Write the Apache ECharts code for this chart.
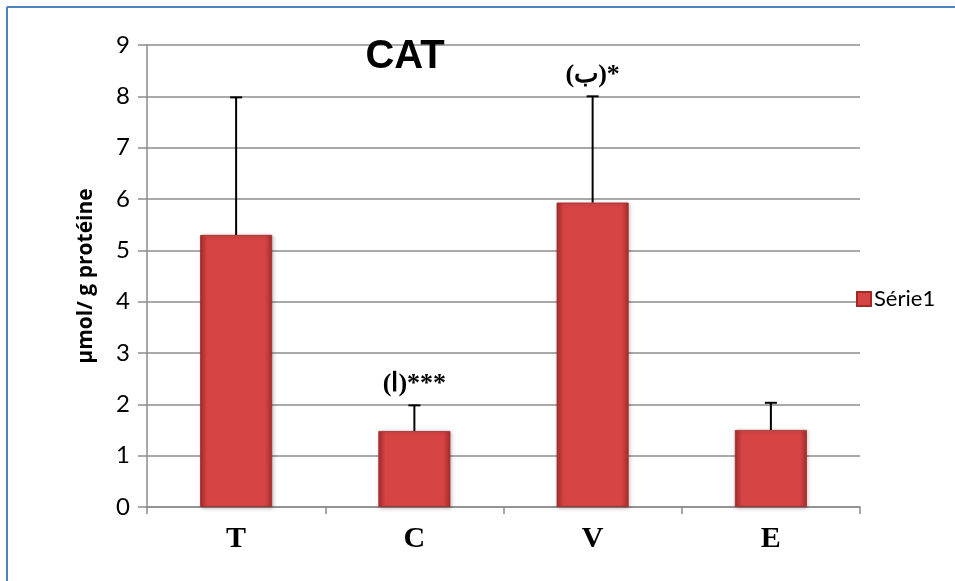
<!DOCTYPE html>
<html>
<head>
<meta charset="utf-8">
<script src="https://cdn.jsdelivr.net/npm/echarts@6/dist/echarts.min.js"></script>
<style>html,body{margin:0;padding:0;background:#fff;}#c{width:955px;height:581px;}</style>
</head>
<body>
<div id="c"></div>
<script>
const categories = ['T', 'C', 'V', 'E'];
const means = [5.3, 1.48, 5.93, 1.5];
const errorTops = [7.98, 1.98, 8.0, 2.03];
const annotations = ['', '(ا)***', '(ب)*', ''];
const yTicks = [0, 1, 2, 3, 4, 5, 6, 7, 8, 9];
const seriesName = 'Série1';
const titleText = 'CAT';
const yAxisName = 'µmol/ g protéine';

const chart = echarts.init(document.getElementById('c'), null, {renderer: 'canvas'});
const barGrad = new echarts.graphic.LinearGradient(0, 0, 1, 0, [
  {offset: 0, color: '#a82c2c'},
  {offset: 0.1, color: '#d64444'},
  {offset: 0.9, color: '#d64444'},
  {offset: 1, color: '#a82c2c'}
]);
const option = {
  animation: false,
  backgroundColor: '#fff',
  title: {
    text: titleText, left: 400, top: 32, textAlign: 'center',
    textStyle: {fontFamily: 'Liberation Sans', fontWeight: 'bold', fontSize: 40, color: '#000'}
  },
  legend: {
    data: [seriesName], left: 851, top: 283, icon: 'rect', itemWidth: 14, itemHeight: 14, itemGap: 4,
    textStyle: {fontFamily: 'Lato', fontSize: 22, color: '#000', padding: [0, 0, 0, -2]}
  },
  grid: {left: 147, right: 95, top: 45, bottom: 74, containLabel: false},
  xAxis: {
    type: 'category', data: categories, boundaryGap: true,
    axisLine: {lineStyle: {color: '#8c8c8c', width: 1.5}},
    axisTick: {show: true, length: 7, lineStyle: {color: '#8c8c8c', width: 1.5}},
    axisLabel: {margin: 17, fontFamily: 'Liberation Serif', fontWeight: 'bold', fontSize: 30, color: '#000'}
  },
  yAxis: {
    type: 'value', min: yTicks[0], max: yTicks[yTicks.length - 1], interval: 1,
    name: yAxisName, nameLocation: 'middle', nameGap: 50, nameRotate: 90,
    nameTextStyle: {fontFamily: 'Open Sans', fontWeight: 'bold', fontSize: 21, color: '#000'},
    axisLine: {show: true, lineStyle: {color: '#8c8c8c', width: 1.5}},
    axisTick: {show: true, length: 9, lineStyle: {color: '#8c8c8c', width: 1.5}},
    splitLine: {show: true, lineStyle: {color: '#8c8c8c', width: 1.5}},
    axisLabel: {margin: 17, fontFamily: 'Lato', fontSize: 24, color: '#000'}
  },
  series: [
    {
      name: seriesName, type: 'bar', data: means, barWidth: 72,
      itemStyle: {color: barGrad, borderColor: '#9e2a2a', borderWidth: 0.8,
        shadowColor: 'rgba(0,0,0,0.25)', shadowBlur: 4, shadowOffsetX: 1, shadowOffsetY: 1}
    },
    {
      name: 'err', type: 'custom', z: 3,
      data: categories.map((c, i) => [i, means[i], errorTops[i], annotations[i]]),
      renderItem: function (params, api) {
        const x = api.value(0);
        const p0 = api.coord([x, api.value(1)]);
        const p1 = api.coord([x, api.value(2)]);
        const hw = 6;
        const children = [
          {type: 'line', shape: {x1: p0[0], y1: p0[1], x2: p1[0], y2: p1[1]}, style: {stroke: '#000', lineWidth: 2}},
          {type: 'line', shape: {x1: p1[0] - hw, y1: p1[1], x2: p1[0] + hw, y2: p1[1]}, style: {stroke: '#000', lineWidth: 2}}
        ];
        const ann = annotations[params.dataIndex];
        if (ann) {
          children.push({type: 'text', x: p1[0], y: p1[1] - 8,
            style: {text: ann, textAlign: 'center', textVerticalAlign: 'bottom',
              font: 'bold 26px "Liberation Serif"', fill: '#000'}});
        }
        return {type: 'group', children: children};
      }
    }
  ],
  graphic: [
    {type: 'line', shape: {x1: 7, y1: 7, x2: 955, y2: 7}, style: {stroke: '#4f81bd', lineWidth: 2}},
    {type: 'line', shape: {x1: 7, y1: 7, x2: 7, y2: 581}, style: {stroke: '#4f81bd', lineWidth: 2}}
  ]
};
chart.setOption(option);
</script>
</body>
</html>
